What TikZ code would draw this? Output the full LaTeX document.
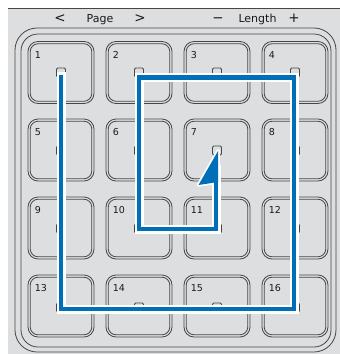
\documentclass[tikz,border=0pt]{standalone}
\usepackage{fontspec}
\setmainfont{DejaVu Sans}
\definecolor{panelgray}{RGB}{221,222,223}
\definecolor{edgegray}{RGB}{70,70,70}
\definecolor{pathblue}{RGB}{0,110,185}
\begin{document}
\begin{tikzpicture}[x=1pt,y=-1pt,
  edge/.style={draw=edgegray, line width=0.8pt},
  keybox/.style={edge, rectangle, rounded corners=10pt, minimum width=66pt, minimum height=62pt, inner sep=0pt},
  keyinner/.style={edge, rounded corners=8pt},
  indbox/.style={edge, rectangle, rounded corners=1.2pt, minimum size=9pt, inner sep=0pt},
  keynum/.style={anchor=north west, inner sep=0pt, font=\fontsize{9.5}{10}\selectfont, text=black!90},
  headtxt/.style={anchor=base, inner sep=0pt, font=\fontsize{11}{12}\selectfont, text=black!90},
  headsym/.style={anchor=base, inner sep=0pt, font=\fontsize{13.5}{14}\selectfont, text=black!90},
  casing/.style={draw=white, line width=9pt, line join=miter},
  blueline/.style={draw=pathblue, line width=4.5pt, line join=miter}
]
\useasboundingbox (0,0) rectangle (340,354);
% panel
\fill[panelgray] (8,8.5) rectangle (340,354);
\draw[edgegray, line width=0.9pt] (8,8.8) -- (340,8.8);
% header texts
\node[headsym] (prev) at (60,22.5) {<};
\node[headtxt] (page) at (100,22) {Page};
\node[headsym] (next) at (140,22.5) {>};
\node[headsym] (minus) at (218,22.5) {−};
\node[headtxt] (length) at (257.5,22) {Length};
\node[headsym] (plus) at (294,22.5) {+};
% frame
\draw[edge, rounded corners=22pt] (15,28) rectangle (336,352);
\draw[edge, rounded corners=17pt] (21,34) rectangle (331,347);
% keys
\foreach \n/\cx/\cy/\iy in {1/61/72.5/72.5, 2/139/72.5/72.5, 3/217/72.5/72.5, 4/295/72.5/72.5,
  5/61/150/150.5, 6/139/150/150.5, 7/217/150/150.5, 8/295/150/150.5,
  9/61/228/228.5, 10/139/228/228.5, 11/217/228/228.5, 12/295/228/228.5,
  13/61/306/307.5, 14/139/306/307.5, 15/217/306/307.5, 16/295/306/307.5}{
  \node[keybox] (k\n) at (\cx,\cy) {};
  \draw[keyinner] ([shift={(2.6,2.6)}]k\n.north west) rectangle ([shift={(-2.6,-2.6)}]k\n.south east);
  \node[indbox] (ind\n) at (\cx,\iy) {};
  \node[keynum] (num\n) at ([shift={(7,10)}]k\n.north west) {\n};
}
% path coordinates
\coordinate (s0) at (61,72);
\coordinate (s1) at (61,74.5);
\coordinate (c1) at (61,309);
\coordinate (c2) at (294,309);
\coordinate (c3) at (294,77.5);
\coordinate (c4) at (139,77.5);
\coordinate (c5) at (139,229);
\coordinate (c6) at (216,229);
\coordinate (aend) at (216,165);
\coordinate (tip) at (218,151);
\coordinate (tl) at (198.5,185);
\coordinate (tr) at (218.25,182);
% casing
\draw[casing] (s0) -- (c1) -- (c2) -- (c3) -- (c4) -- (c5) -- (c6) -- (aend);
\filldraw[white, line width=3.5pt, line join=round] (tip) -- (tl) -- (tr) -- cycle;
% blue
\draw[blueline] (s1) -- (c1) -- (c2) -- (c3) -- (c4) -- (c5) -- (c6) -- (aend);
\fill[pathblue] (tip) -- (tl) -- (tr) -- cycle;
\end{tikzpicture}
\end{document}
